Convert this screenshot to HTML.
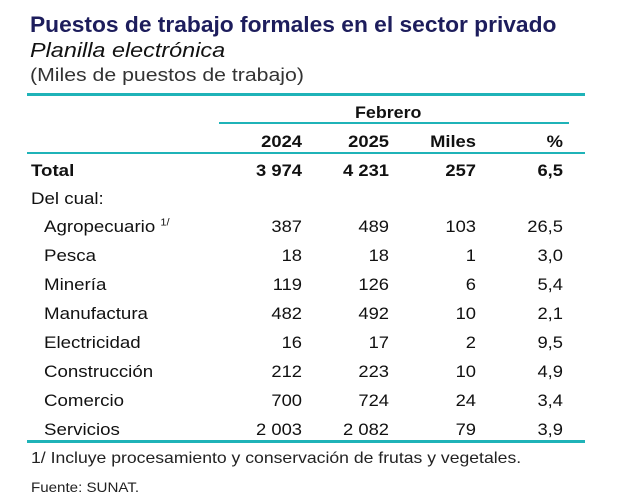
<!DOCTYPE html>
<html><head><meta charset="utf-8"><style>
body{margin:0;width:620px;height:501px;background:#fff;position:relative;overflow:hidden;font-family:"Liberation Sans",Arial,sans-serif;color:#111}
.a{position:absolute;white-space:nowrap;line-height:1;transform-origin:left top}
.ln{position:absolute;background:#1fb3b8;height:3px}
.r{text-align:right;width:100px;transform-origin:right top}
</style></head><body>
<div class="a" style="left:30px;top:14px;font-size:22px;font-weight:bold;color:#1d1d5c;transform:scaleX(1.035)">Puestos de trabajo formales en el sector privado</div>
<div class="a" style="left:30px;top:41px;font-size:20px;font-style:italic;transform:scaleX(1.17)">Planilla electrónica</div>
<div class="a" style="left:30px;top:66px;font-size:18px;color:#333;transform:scaleX(1.18)">(Miles de puestos de trabajo)</div>
<div class="ln" style="left:27px;width:558px;top:93px"></div>
<div class="a" style="left:355px;top:104px;font-size:17px;font-weight:bold;transform:scaleX(1.05)">Febrero</div>
<div class="ln" style="left:219px;width:350px;top:122px;height:2px"></div>
<div id="hdr"></div>
<div class="ln" style="left:27px;width:558px;top:152px;height:2px"></div>
<div id="rows"></div>
<div class="ln" style="left:27px;width:558px;top:440px"></div>
<div class="a" style="left:31px;top:451px;font-size:16px;color:#222;transform:scaleX(1.1)">1/ Incluye procesamiento y conservación de frutas y vegetales.</div>
<div class="a" style="left:31px;top:481px;font-size:13.5px;color:#222;transform:scaleX(1.12)">Fuente: SUNAT.</div>
<script>
const headers=["2024","2025","Miles","%"];
const labels=["Agropecuario","Pesca","Minería","Manufactura","Electricidad","Construcción","Comercio","Servicios"];
const v2024=["387","18","119","482","16","212","700","2 003"];
const v2025=["489","18","126","492","17","223","724","2 082"];
const miles=["103","1","6","10","2","10","24","79"];
const pct=["26,5","3,0","5,4","2,1","9,5","4,9","3,4","3,9"];
const total=["3 974","4 231","257","6,5"];
const colR=[302,389,476,563];
function cell(parent,txt,right,top,bold,name){
  const d=document.createElement('div');
  
  
  d.className='a r';d.style.left=(right-100)+'px';d.style.top=top+'px';d.style.fontSize='17px';
  d.style.transform='scaleX(1.08)';
  if(bold)d.style.fontWeight='bold';d.textContent=txt;parent.appendChild(d);
}
function lab(parent,html,left,top,bold,name){
  const d=document.createElement('div');
  
  
  d.className='a';d.style.left=left+'px';d.style.top=top+'px';d.style.fontSize='17px';
  d.style.transform='scaleX(1.1)';
  if(bold)d.style.fontWeight='bold';d.innerHTML=html;parent.appendChild(d);
}
const H=document.getElementById('hdr');
headers.forEach((h,i)=>cell(H,h,colR[i],133,true,'column-header'));
const R=document.getElementById('rows');
lab(R,'Total',31,162,true,'total-label');
total.forEach((t,i)=>cell(R,t,colR[i],162,true,'total-value'));
lab(R,'Del cual:',31,190,false,'del-cual-label');
labels.forEach((l,k)=>{
  const y=218+k*29;
  lab(R,l+(k==0?' <sup style="font-size:10px">1/</sup>':''),44,y,false,'row-label');
  [v2024[k],v2025[k],miles[k],pct[k]].forEach((t,i)=>cell(R,t,colR[i],y,false,'row-value'));
});
</script>
</body></html>
